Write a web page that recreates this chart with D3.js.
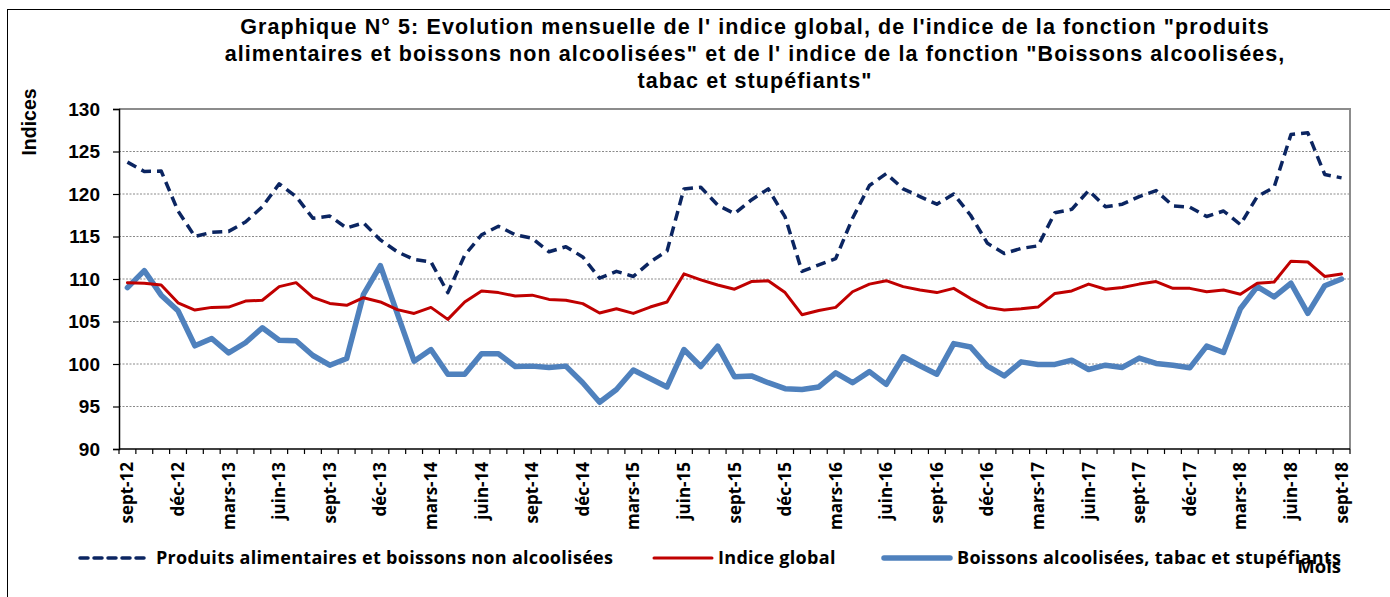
<!DOCTYPE html>
<html>
<head>
<meta charset="utf-8">
<script src="https://cdn.jsdelivr.net/npm/d3@7"></script>
<style>
  html, body { margin: 0; padding: 0; background: #fff; }
  svg { display: block; }
</style>
</head>
<body>
<svg id="chart" width="1390" height="597"></svg>
<script>
// ---------- DATA ----------
const months = [
  "sept-12","oct-12","nov-12","déc-12","janv-13","févr-13","mars-13","avr-13","mai-13","juin-13","juil-13","août-13",
  "sept-13","oct-13","nov-13","déc-13","janv-14","févr-14","mars-14","avr-14","mai-14","juin-14","juil-14","août-14",
  "sept-14","oct-14","nov-14","déc-14","janv-15","févr-15","mars-15","avr-15","mai-15","juin-15","juil-15","août-15",
  "sept-15","oct-15","nov-15","déc-15","janv-16","févr-16","mars-16","avr-16","mai-16","juin-16","juil-16","août-16",
  "sept-16","oct-16","nov-16","déc-16","janv-17","févr-17","mars-17","avr-17","mai-17","juin-17","juil-17","août-17",
  "sept-17","oct-17","nov-17","déc-17","janv-18","févr-18","mars-18","avr-18","mai-18","juin-18","juil-18","août-18",
  "sept-18"
];
const labeledMonths = [
  "sept-12","déc-12","mars-13","juin-13","sept-13","déc-13","mars-14","juin-14","sept-14","déc-14","mars-15","juin-15",
  "sept-15","déc-15","mars-16","juin-16","sept-16","déc-16","mars-17","juin-17","sept-17","déc-17","mars-18","juin-18","sept-18"
];
const yTicks = [90, 95, 100, 105, 110, 115, 120, 125, 130];

// Produits alimentaires et boissons non alcoolisées
const alimentaires = [
  123.75,122.65,122.7,118.0,115.0,115.5,115.6,116.7,118.5,121.2,119.7,117.15,
  117.4,116.0,116.6,114.6,113.2,112.3,112.0,108.4,112.8,115.2,116.2,115.2,
  114.8,113.2,113.8,112.6,110.1,110.9,110.3,112.0,113.3,120.6,120.8,118.7,
  117.7,119.3,120.6,117.3,110.9,111.65,112.4,117.15,121.0,122.4,120.6,119.7,
  118.8,120.0,117.5,114.2,113.0,113.6,113.9,117.8,118.2,120.4,118.5,118.8,
  119.7,120.4,118.6,118.45,117.35,118.0,116.4,119.7,120.8,127.0,127.2,122.3,
  121.9
];
// Indice global
const indiceGlobal = [
  109.57,109.5,109.3,107.2,106.35,106.66,106.7,107.4,107.5,109.1,109.57,107.84,
  107.13,106.9,107.8,107.3,106.4,105.95,106.66,105.25,107.3,108.6,108.4,108.0,
  108.1,107.6,107.5,107.1,106.0,106.5,105.95,106.7,107.3,110.6,109.9,109.3,
  108.8,109.7,109.8,108.4,105.8,106.3,106.66,108.5,109.4,109.8,109.1,108.7,
  108.4,108.9,107.7,106.66,106.35,106.5,106.7,108.3,108.6,109.4,108.8,109.0,
  109.4,109.7,108.9,108.9,108.5,108.7,108.2,109.5,109.65,112.1,112.0,110.3,
  110.6
];
// Boissons alcoolisées, tabac et stupéfiants
const boissonsAlc = [
  108.98,110.98,108.1,106.27,102.14,103.0,101.3,102.5,104.26,102.8,102.73,101.0,
  99.86,100.65,108.2,111.57,105.95,100.33,101.7,98.8,98.8,101.2,101.2,99.7,
  99.75,99.6,99.75,97.8,95.5,97.0,99.3,98.3,97.3,101.7,99.7,102.1,
  98.5,98.6,97.8,97.1,97.0,97.3,98.96,97.8,99.1,97.6,100.85,99.8,
  98.8,102.4,102.0,99.75,98.6,100.25,99.95,99.95,100.45,99.35,99.86,99.6,
  100.7,100.06,99.86,99.55,102.1,101.35,106.5,109.1,107.9,109.5,105.95,109.2,
  110.0
];

const seriesNames = [
  "Produits alimentaires et boissons non alcoolisées",
  "Indice global",
  "Boissons alcoolisées, tabac et stupéfiants"
];
const titleLines = [
  "Graphique N° 5: Evolution mensuelle de l' indice global, de l'indice de la fonction \"produits",
  "alimentaires et boissons non alcoolisées\" et de l' indice de la fonction \"Boissons alcoolisées,",
  "tabac et stupéfiants\""
];

// ---------- LAYOUT ----------
const svg = d3.select("#chart");
const L = 119, R = 1350, T = 109, B = 449;

const x = d3.scaleBand().domain(months).range([L, R]).paddingInner(0).paddingOuter(0);
const y = d3.scaleLinear().domain([90, 130]).range([B, T]);
const cx = m => x(m) + x.bandwidth() / 2;

// outer frame
svg.append("rect").attr("x", 7.5).attr("y", 9.5).attr("width", 1400).attr("height", 600)
  .attr("fill", "none").attr("stroke", "#000").attr("stroke-width", 1);

// title
const titleG = svg.append("g")
  .attr("font-family", "'Liberation Sans', Arial, sans-serif")
  .attr("font-weight", "bold").attr("font-size", 21.5).attr("letter-spacing", 1.1).attr("fill", "#000");
titleLines.forEach((t, i) => {
  titleG.append("text").attr("x", 755).attr("y", 34 + i * 27)
    .attr("text-anchor", "middle").text(t);
});

// gridlines
svg.append("g").selectAll("line")
  .data(yTicks.filter(v => v > 90 && v < 130))
  .join("line")
  .attr("x1", L).attr("x2", R)
  .attr("y1", d => y(d)).attr("y2", d => y(d))
  .attr("stroke", "#8a8a8a").attr("stroke-width", 1).attr("stroke-dasharray", "2,1.5");

// plot border top & right (grey)
svg.append("path")
  .attr("d", `M${L},${y(130)}H${R}V${B}`)
  .attr("fill", "none").attr("stroke", "#8c8c8c").attr("stroke-width", 2);

// y axis
const yAxis = d3.axisLeft(y).tickValues(yTicks).tickSize(6).tickPadding(13).tickFormat(d3.format("d"));
const yg = svg.append("g").attr("transform", `translate(${L},0)`).call(yAxis);
yg.select(".domain").attr("stroke", "#000").attr("stroke-width", 1.5);
yg.selectAll(".tick line").attr("stroke", "#000").attr("stroke-width", 1.2);
yg.selectAll(".tick text")
  .attr("font-family", "'Liberation Sans', Arial, sans-serif")
  .attr("font-weight", "bold").attr("font-size", 19).attr("fill", "#000");

// x axis (labels at category centres, tick marks at category boundaries)
const xg = svg.append("g").attr("transform", `translate(0,${B})`);
xg.append("line").attr("x1", L).attr("x2", R).attr("y1", 0).attr("y2", 0)
  .attr("stroke", "#000").attr("stroke-width", 1.5);
xg.selectAll("line.tk")
  .data(months.map(m => x(m)).concat([x.range()[1]]))
  .join("line").attr("class", "tk")
  .attr("x1", d => d).attr("x2", d => d).attr("y1", 0).attr("y2", 5)
  .attr("stroke", "#000").attr("stroke-width", 1.2);
xg.selectAll("text.lbl")
  .data(labeledMonths)
  .join("text").attr("class", "lbl")
  .attr("transform", d => `translate(${cx(d) + 6},13) rotate(-90)`)
  .attr("text-anchor", "end")
  .attr("font-family", "'Open Sans', sans-serif")
  .attr("font-weight", "bold").attr("font-size", 17).attr("fill", "#000")
  .text(d => d);

// axis titles
svg.append("text")
  .attr("transform", `translate(36,122) rotate(-90)`)
  .attr("text-anchor", "middle")
  .attr("font-family", "'Liberation Sans', Arial, sans-serif")
  .attr("font-weight", "bold").attr("font-size", 19.5).attr("fill", "#000")
  .text("Indices");

// lines
const lineGen = vals => d3.line()
  .x((d, i) => cx(months[i]))
  .y(d => y(d))(vals);

const styles = [
  { data: alimentaires, color: "#0B2561", width: 3.5, dash: "10,6" },
  { data: indiceGlobal, color: "#C00000", width: 3, dash: null },
  { data: boissonsAlc, color: "#4F81BD", width: 5.5, dash: null }
];
// draw order: blue, red, dashed navy on top
[2, 1, 0].forEach(k => {
  const s = styles[k];
  svg.append("path")
    .attr("d", lineGen(s.data))
    .attr("fill", "none")
    .attr("stroke", s.color)
    .attr("stroke-width", s.width)
    .attr("stroke-linejoin", "round")
    .attr("stroke-linecap", s.dash ? "butt" : "round")
    .attr("stroke-dasharray", s.dash);
});

// legend
const legend = [
  { k: 0, x1: 80, x2: 150, tx: 156 },
  { k: 1, x1: 654, x2: 712, tx: 718 },
  { k: 2, x1: 884, x2: 950, tx: 957 }
];
const ly = 558;
legend.forEach(l => {
  const s = styles[l.k];
  svg.append("line")
    .attr("x1", l.x1).attr("x2", l.x2).attr("y1", ly).attr("y2", ly)
    .attr("stroke", s.color).attr("stroke-width", s.width)
    .attr("stroke-linecap", "round")
    .attr("stroke-dasharray", s.dash ? "8,6" : null);
  svg.append("text")
    .attr("x", l.tx).attr("y", ly).attr("dy", "0.35em")
    .attr("font-family", "'Open Sans', sans-serif")
    .attr("font-weight", "bold").attr("font-size", 18).attr("letter-spacing", 0.3).attr("fill", "#000")
    .text(seriesNames[l.k]);
});

// "Mois" axis title
svg.append("text")
  .attr("x", 1341).attr("y", 573).attr("text-anchor", "end")
  .attr("font-family", "'Open Sans', sans-serif")
  .attr("font-weight", "bold").attr("font-size", 18.5).attr("fill", "#000")
  .text("Mois");
</script>
</body>
</html>
